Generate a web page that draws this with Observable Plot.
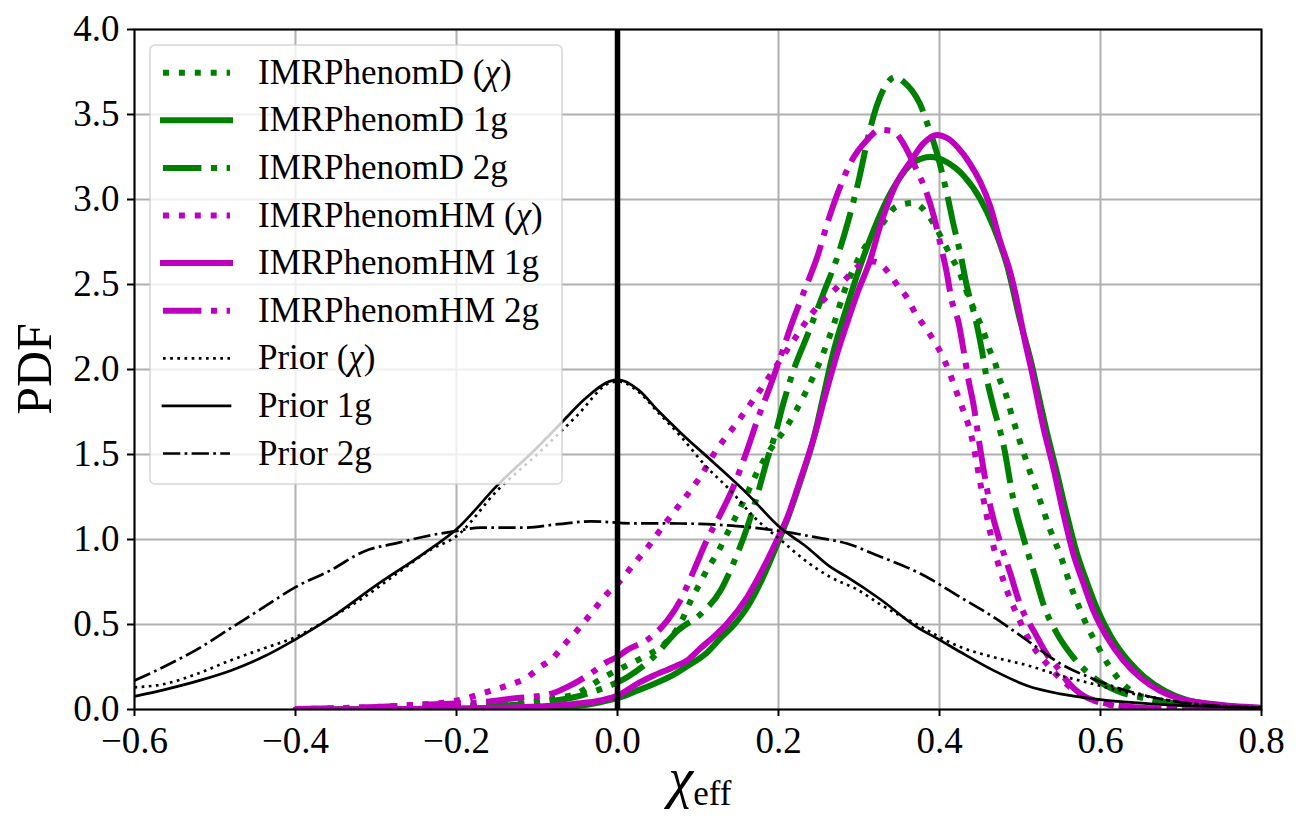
<!DOCTYPE html>
<html>
<head>
<meta charset="utf-8">
<script src="https://cdn.jsdelivr.net/npm/d3@7"></script>
<script src="https://cdn.jsdelivr.net/npm/@observablehq/plot@0.6"></script>
<style>
  html, body { margin: 0; padding: 0; background: #fff; }
  svg { display: block; }
</style>
</head>
<body>
<script>
// Effective-spin PDFs: posteriors for two waveform models under three spin priors, plus the priors.

const xTicks = [-0.6, -0.4, -0.2, 0.0, 0.2, 0.4, 0.6, 0.8];
const yTicks = [0.0, 0.5, 1.0, 1.5, 2.0, 2.5, 3.0, 3.5, 4.0];
const refX = [0];

const seriesLabels = [
  "IMRPhenomD (χ)", "IMRPhenomD 1g", "IMRPhenomD 2g",
  "IMRPhenomHM (χ)", "IMRPhenomHM 1g", "IMRPhenomHM 2g",
  "Prior (χ)", "Prior 1g", "Prior 2g"
];

// [chi_eff, pdf]
const phenomDChi = [[-0.4,0],[-0.3,0.005],[-0.2,0.018],[-0.145,0.033],[-0.112,0.043],[-0.09,0.053],[-0.07,0.072],[-0.05,0.095],[-0.034,0.14],[-0.013,0.2],[0.012,0.26],[0.033,0.31],[0.057,0.38],[0.078,0.505],[0.091,0.64],[0.101,0.73],[0.111,0.82],[0.124,0.92],[0.14,1.07],[0.157,1.23],[0.175,1.41],[0.19,1.53],[0.211,1.67],[0.231,1.84],[0.256,2.1],[0.269,2.27],[0.281,2.45],[0.298,2.64],[0.31,2.74],[0.325,2.83],[0.347,2.96],[0.368,2.98],[0.384,2.92],[0.395,2.84],[0.405,2.75],[0.415,2.66],[0.424,2.58],[0.436,2.43],[0.447,2.31],[0.455,2.22],[0.461,2.13],[0.469,2.04],[0.475,1.94],[0.482,1.86],[0.488,1.76],[0.5,1.575],[0.513,1.39],[0.527,1.2],[0.538,1.05],[0.55,0.91],[0.562,0.74],[0.575,0.583],[0.585,0.475],[0.595,0.387],[0.604,0.308],[0.616,0.22],[0.628,0.15],[0.641,0.1],[0.666,0.06],[0.695,0.034],[0.757,0.016],[0.8,0.008]];

const phenomD1g = [[-0.4,0],[-0.3,0.002],[-0.2,0.004],[-0.12,0.008],[-0.054,0.02],[-0.021,0.043],[0.004,0.072],[0.024,0.11],[0.045,0.15],[0.07,0.205],[0.09,0.265],[0.11,0.33],[0.128,0.42],[0.145,0.5],[0.161,0.6],[0.18,0.77],[0.2,0.99],[0.211,1.12],[0.227,1.34],[0.244,1.6],[0.256,1.85],[0.268,2.1],[0.285,2.37],[0.31,2.72],[0.343,3.07],[0.368,3.22],[0.389,3.25],[0.409,3.22],[0.43,3.14],[0.451,3.0],[0.467,2.84],[0.484,2.61],[0.5,2.29],[0.513,2.06],[0.523,1.85],[0.532,1.66],[0.545,1.41],[0.558,1.15],[0.57,0.93],[0.583,0.75],[0.596,0.59],[0.613,0.43],[0.634,0.29],[0.655,0.19],[0.68,0.11],[0.705,0.06],[0.74,0.03],[0.8,0.008]];

const phenomD2g = [[-0.4,0],[-0.3,0.004],[-0.22,0.014],[-0.137,0.024],[-0.096,0.043],[-0.054,0.072],[-0.021,0.12],[0.012,0.19],[0.045,0.31],[0.075,0.465],[0.103,0.56],[0.128,0.7],[0.144,0.86],[0.161,1.07],[0.173,1.25],[0.186,1.47],[0.196,1.62],[0.206,1.8],[0.219,2.0],[0.235,2.19],[0.256,2.45],[0.273,2.66],[0.287,2.88],[0.3,3.12],[0.312,3.38],[0.322,3.55],[0.333,3.67],[0.345,3.72],[0.356,3.69],[0.366,3.64],[0.376,3.56],[0.386,3.43],[0.397,3.27],[0.409,3.04],[0.418,2.84],[0.426,2.68],[0.434,2.49],[0.445,2.29],[0.452,2.13],[0.459,1.94],[0.466,1.8],[0.48,1.545],[0.492,1.23],[0.504,1.015],[0.519,0.78],[0.529,0.62],[0.546,0.446],[0.566,0.308],[0.591,0.19],[0.62,0.11],[0.649,0.072],[0.682,0.043],[0.715,0.024],[0.8,0.008]];

const phenomHMChi = [[-0.4,0.003],[-0.3,0.015],[-0.25,0.028],[-0.211,0.043],[-0.19,0.063],[-0.17,0.092],[-0.149,0.122],[-0.131,0.15],[-0.112,0.19],[-0.096,0.25],[-0.079,0.308],[-0.067,0.377],[-0.052,0.455],[-0.038,0.534],[-0.013,0.68],[0.004,0.76],[0.016,0.83],[0.04,0.97],[0.06,1.1],[0.078,1.21],[0.091,1.29],[0.103,1.37],[0.124,1.535],[0.136,1.61],[0.149,1.69],[0.161,1.77],[0.173,1.85],[0.2,2.04],[0.22,2.18],[0.24,2.32],[0.254,2.4],[0.27,2.47],[0.285,2.54],[0.3,2.61],[0.318,2.635],[0.335,2.58],[0.347,2.5],[0.36,2.42],[0.37,2.33],[0.382,2.25],[0.393,2.17],[0.403,2.085],[0.411,2.0],[0.418,1.91],[0.424,1.83],[0.44,1.6],[0.452,1.3],[0.465,1.0],[0.48,0.75],[0.497,0.55],[0.515,0.38],[0.535,0.26],[0.555,0.16],[0.575,0.09],[0.6,0.04],[0.62,0.02],[0.64,0.008],[0.7,0.002],[0.8,0]];

const phenomHM1g = [[-0.4,0],[-0.3,0.002],[-0.2,0.006],[-0.116,0.014],[-0.054,0.033],[-0.021,0.053],[0.004,0.09],[0.024,0.15],[0.045,0.2],[0.07,0.25],[0.087,0.29],[0.103,0.36],[0.12,0.43],[0.136,0.505],[0.161,0.66],[0.182,0.84],[0.198,0.996],[0.211,1.13],[0.227,1.35],[0.244,1.6],[0.26,1.88],[0.273,2.095],[0.285,2.27],[0.298,2.45],[0.314,2.645],[0.326,2.84],[0.345,3.08],[0.365,3.23],[0.38,3.33],[0.397,3.38],[0.41,3.36],[0.422,3.31],[0.438,3.21],[0.451,3.1],[0.463,2.96],[0.475,2.76],[0.488,2.57],[0.496,2.41],[0.506,2.17],[0.515,1.98],[0.529,1.66],[0.542,1.41],[0.554,1.15],[0.566,0.92],[0.579,0.74],[0.591,0.583],[0.608,0.426],[0.628,0.29],[0.649,0.19],[0.674,0.11],[0.699,0.063],[0.736,0.034],[0.8,0.01]];

const phenomHM2g = [[-0.4,0.003],[-0.3,0.015],[-0.22,0.033],[-0.17,0.043],[-0.13,0.065],[-0.083,0.092],[-0.055,0.15],[-0.034,0.21],[-0.013,0.28],[0,0.31],[0.012,0.35],[0.037,0.41],[0.062,0.524],[0.078,0.64],[0.095,0.82],[0.111,0.996],[0.128,1.15],[0.144,1.31],[0.161,1.525],[0.175,1.72],[0.188,1.88],[0.204,2.095],[0.215,2.25],[0.231,2.45],[0.248,2.66],[0.262,2.88],[0.277,3.08],[0.29,3.22],[0.31,3.35],[0.326,3.41],[0.343,3.4],[0.355,3.33],[0.366,3.23],[0.374,3.15],[0.384,3.04],[0.393,2.9],[0.401,2.74],[0.409,2.57],[0.415,2.41],[0.424,2.27],[0.43,2.11],[0.436,1.94],[0.442,1.8],[0.451,1.52],[0.463,1.2],[0.475,0.99],[0.488,0.8],[0.5,0.62],[0.519,0.446],[0.533,0.328],[0.546,0.25],[0.558,0.17],[0.575,0.092],[0.6,0.043],[0.624,0.022],[0.66,0.008],[0.7,0.002],[0.8,0]];

const priorChi = [[-0.6,0.13],[-0.563,0.15],[-0.522,0.21],[-0.48,0.29],[-0.439,0.36],[-0.398,0.43],[-0.356,0.54],[-0.315,0.66],[-0.274,0.8],[-0.232,0.94],[-0.2,1.02],[-0.149,1.29],[-0.1,1.5],[-0.05,1.73],[-0.01,1.92],[0,1.93],[0.026,1.87],[0.05,1.75],[0.078,1.61],[0.11,1.43],[0.14,1.29],[0.17,1.13],[0.202,1.0],[0.235,0.87],[0.264,0.78],[0.3,0.7],[0.326,0.62],[0.372,0.5],[0.426,0.367],[0.467,0.308],[0.509,0.26],[0.55,0.2],[0.591,0.15],[0.633,0.1],[0.674,0.063],[0.715,0.034],[0.8,0.012]];

const prior1g = [[-0.6,0.077],[-0.56,0.12],[-0.52,0.17],[-0.48,0.23],[-0.44,0.31],[-0.401,0.41],[-0.356,0.54],[-0.3,0.73],[-0.24,0.92],[-0.2,1.06],[-0.149,1.32],[-0.1,1.54],[-0.067,1.7],[-0.042,1.82],[-0.01,1.93],[0,1.94],[0.026,1.88],[0.05,1.76],[0.078,1.63],[0.12,1.45],[0.161,1.27],[0.202,1.07],[0.235,0.956],[0.264,0.84],[0.285,0.78],[0.326,0.65],[0.372,0.485],[0.4,0.41],[0.426,0.338],[0.467,0.23],[0.509,0.14],[0.55,0.092],[0.591,0.063],[0.633,0.043],[0.674,0.03],[0.736,0.018],[0.8,0.01]];

const prior2g = [[-0.6,0.17],[-0.564,0.25],[-0.52,0.36],[-0.48,0.48],[-0.44,0.6],[-0.4,0.72],[-0.356,0.82],[-0.315,0.93],[-0.273,0.98],[-0.232,1.025],[-0.2,1.05],[-0.17,1.07],[-0.117,1.07],[-0.074,1.09],[-0.033,1.107],[0.016,1.095],[0.078,1.094],[0.136,1.083],[0.161,1.074],[0.204,1.048],[0.244,1.015],[0.285,0.976],[0.326,0.9],[0.376,0.8],[0.426,0.66],[0.467,0.544],[0.509,0.406],[0.55,0.27],[0.591,0.18],[0.633,0.11],[0.674,0.063],[0.715,0.034],[0.8,0.012]];

const curves = [phenomDChi, phenomD1g, phenomD2g, phenomHMChi, phenomHM1g, phenomHM2g, priorChi, prior1g, prior2g];

// Line styles (colour, width, dash pattern) in the same order as the series
const GREEN = "#008000", MAGENTA = "#bf00bf", BLACK = "#000000";
const THICK = 6, THIN = 2.7;
const dotted = w => `${w},${(w * 1.65).toFixed(2)}`;
const dashDot = w => `${(w * 6.4).toFixed(2)},${(w * 1.6).toFixed(2)},${w},${(w * 1.6).toFixed(2)}`;
const styles = [
  {stroke: GREEN, width: THICK, dash: dotted(THICK)},
  {stroke: GREEN, width: THICK, dash: null},
  {stroke: GREEN, width: THICK, dash: dashDot(THICK)},
  {stroke: MAGENTA, width: THICK, dash: dotted(THICK)},
  {stroke: MAGENTA, width: THICK, dash: null},
  {stroke: MAGENTA, width: THICK, dash: dashDot(THICK)},
  {stroke: BLACK, width: THIN, dash: dotted(THIN)},
  {stroke: BLACK, width: THIN, dash: null},
  {stroke: BLACK, width: THIN, dash: dashDot(THIN)}
];

const rows = curves.flatMap((pts, i) =>
  pts.map(([x, y]) => ({series: seriesLabels[i], x, y})));

const FONT = "'Liberation Serif', 'DejaVu Serif', serif";
const fmt = d3.format(".1f");

const chart = Plot.plot({
  width: 1302,
  height: 830,
  marginTop: 29,
  marginRight: 41,
  marginBottom: 121,
  marginLeft: 134,
  style: {fontFamily: FONT, fontSize: "37px", color: "black", background: "white", overflow: "visible"},
  x: {domain: [-0.6, 0.8]},
  y: {domain: [0, 4]},
  marks: [
    Plot.gridX({ticks: xTicks, stroke: "#b0b0b0", strokeOpacity: 1, strokeWidth: 2}),
    Plot.gridY({ticks: yTicks, stroke: "#b0b0b0", strokeOpacity: 1, strokeWidth: 2}),
    ...seriesLabels.map((label, i) => Plot.line(rows.filter(d => d.series === label), {
      x: "x",
      y: "y",
      curve: "monotone-x",
      stroke: styles[i].stroke,
      strokeWidth: styles[i].width,
      strokeDasharray: styles[i].dash ?? undefined,
      strokeLinecap: styles[i].dash ? "butt" : "round",
      strokeLinejoin: "round",
      clip: true
    })),
    Plot.ruleX(refX, {stroke: "black", strokeWidth: 5.5}),
    Plot.frame({stroke: "black", strokeWidth: 2}),
    Plot.axisX({ticks: xTicks, tickFormat: fmt, tickSize: 7, tickPadding: 10, strokeWidth: 2, label: null, fontSize: 37, fontFamily: FONT}),
    Plot.axisY({ticks: yTicks, tickFormat: fmt, tickSize: 7, tickPadding: 8, strokeWidth: 2, label: null, fontSize: 37, fontFamily: FONT})
  ]
});

document.body.appendChild(chart);

const svg = d3.select(chart);

// Axis titles
svg.append("text")
  .attr("transform", "translate(51,369) rotate(-90)")
  .attr("text-anchor", "middle")
  .attr("font-family", FONT)
  .attr("font-size", 50)
  .attr("fill", "black")
  .text("PDF");

const xTitle = svg.append("text")
  .attr("x", 700)
  .attr("y", 797)
  .attr("text-anchor", "middle")
  .attr("font-family", FONT)
  .attr("fill", "black");
xTitle.append("tspan").attr("font-size", 56).attr("font-style", "italic").text("χ");
xTitle.append("tspan").attr("font-size", 35).attr("dy", 8).text("eff");

// Legend box drawn over the axes
const legend = svg.append("g").attr("text-anchor", "start");
const LX = 150, LY = 45, LW = 412, LH = 439;
legend.append("rect")
  .attr("x", LX).attr("y", LY).attr("width", LW).attr("height", LH)
  .attr("rx", 5).attr("ry", 5)
  .attr("fill", "white").attr("fill-opacity", 0.8)
  .attr("stroke", "#cccccc").attr("stroke-opacity", 0.8).attr("stroke-width", 1.5);

const rowY0 = 72.7, rowStep = 47.6;
seriesLabels.forEach((label, i) => {
  const y = rowY0 + i * rowStep;
  const s = styles[i];
  legend.append("line")
    .attr("x1", 163).attr("x2", 230).attr("y1", y).attr("y2", y)
    .attr("stroke", s.stroke).attr("stroke-width", s.width)
    .attr("stroke-dasharray", s.dash)
    .attr("stroke-linecap", s.dash ? "butt" : "square");
  const t = legend.append("text")
    .attr("x", 258).attr("y", y + 11)
    .attr("text-anchor", "start")
    .attr("font-family", FONT).attr("font-size", 35).attr("fill", "black");
  const m = label.match(/^(.*)\(χ\)$/);
  if (m) {
    t.append("tspan").text(m[1] + "(");
    t.append("tspan").attr("font-style", "italic").text("χ");
    t.append("tspan").text(")");
  } else {
    t.text(label);
  }
});
</script>
</body>
</html>
